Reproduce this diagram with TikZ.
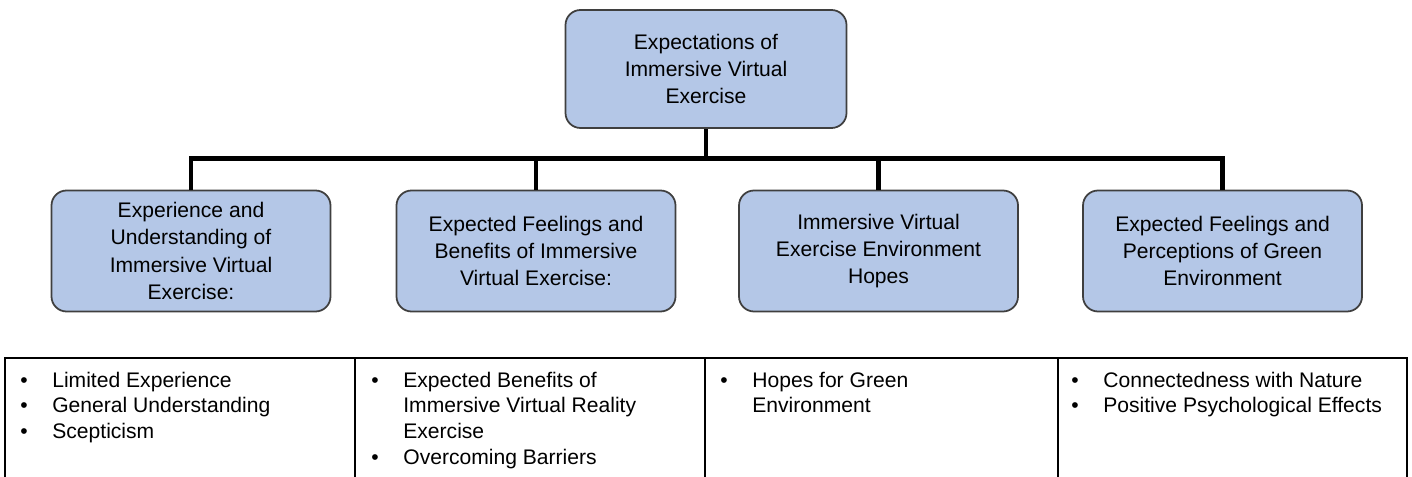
\documentclass[tikz,border=0pt]{standalone}
\usepackage{fontspec}
\setmainfont{Liberation Sans}
\usepackage{xcolor}
\definecolor{boxblue}{HTML}{B4C7E7}
\definecolor{boxline}{HTML}{3F3F3F}
\newcommand{\bul}{\makebox[0.64cm][l]{\textbullet}}
\newcommand{\ind}{\hspace*{0.64cm}}

\begin{document}
\begin{tikzpicture}
\useasboundingbox (0,0) rectangle (28.24,-9.54);

% theme boxes
\begin{scope}[every node/.style={rectangle,rounded corners=0.3cm,draw=boxline,line width=1pt,fill=boxblue,
              align=center,font=\fontsize{12}{15.5}\selectfont,minimum width=5.58cm,minimum height=2.42cm}]
    \node (top)[minimum width=5.62cm,minimum height=2.36cm] at (14.12,-1.38) {Expectations of\\Immersive Virtual\\Exercise};
    \node (exp) at (3.82,-5.02) {Experience and\\Understanding of\\Immersive Virtual\\Exercise:};
    \node (feel) at (10.72,-5.02) {Expected Feelings and\\Benefits of Immersive\\Virtual Exercise:};
    \node (env) at (17.57,-5.02) {Immersive Virtual\\Exercise Environment\\Hopes};
    \node (green) at (24.45,-5.02) {Expected Feelings and\\Perceptions of Green\\Environment};
\end{scope}

% tree lines
\begin{scope}[line width=2.8pt]
    \draw (top.south) -- ++(0,-0.6) coordinate (bar);
    \draw (exp.north) |- (bar) -| (green.north);
    \draw (feel.north) -- (feel.north |- bar);
    \draw (env.north) -- (env.north |- bar);
\end{scope}

% sub-theme table
\begin{scope}[line width=1pt]
    \draw (0.1,-9.54) |- (28.14,-7.16) -- (28.14,-9.54);
    \foreach \x in {7.1,14.1,21.16}
        \draw (\x,-7.16) -- (\x,-9.54);
\end{scope}

\begin{scope}[every node/.style={anchor=north west,inner sep=0pt,align=left,font=\fontsize{12}{14.6}\selectfont}]
    \node (subexp) at (0.40,-7.43) {\bul Limited Experience\\\bul General Understanding\\\bul Scepticism};
    \node (subfeel) at (7.42,-7.43) {\bul Expected Benefits of\\\ind Immersive Virtual Reality\\\ind Exercise\\\bul Overcoming Barriers};
    \node (subenv) at (14.4,-7.43) {\bul Hopes for Green\\\ind Environment};
    \node (subgreen) at (21.42,-7.43) {\bul Connectedness with Nature\\\bul Positive Psychological Effects};
\end{scope}
\end{tikzpicture}
\end{document}
